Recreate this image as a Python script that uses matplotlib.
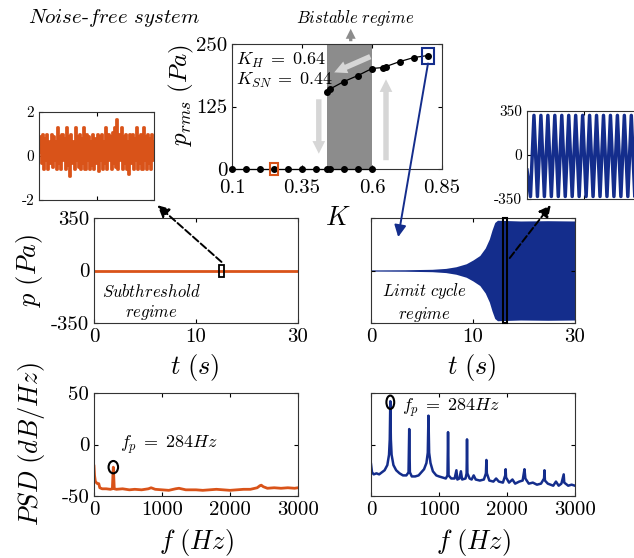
import numpy as np
import matplotlib
matplotlib.use('Agg')
import matplotlib.pyplot as plt
from matplotlib.patches import Rectangle, Ellipse, ConnectionPatch

# ---- bifurcation diagram (K vs p_rms) ----
K_low = [0.1, 0.15, 0.2, 0.25, 0.3, 0.35, 0.4, 0.44, 0.45, 0.5, 0.55, 0.6]
P_low = [0, 0, 0, 0, 0, 0, 0, 0, 0, 0, 0, 0]
K_up = [0.44, 0.45, 0.5, 0.55, 0.6, 0.64, 0.65, 0.7, 0.75, 0.8]
P_up = [155, 160, 175, 187, 201, 203, 205, 215, 223, 227]
K_SN, K_H = 0.44, 0.6

# ---- time series ----
t_sub = [0, 30]
p_sub = [0, 0]
env_t = [0, 5, 9, 11, 12.5, 14, 15, 16, 16.8, 17.4, 17.8, 18.2, 18.6, 22, 26, 30]
env_a = [4, 5, 8, 14, 25, 45, 70, 100, 150, 210, 270, 320, 335, 330, 332, 330]

# zoomed insets
noise_in = [0.2, 0.9, -0.3, 1.0, -0.6, 0.8, -0.2, 1.0, -0.6, 0.7, -0.3, 1.0, -0.5, 0.9,
            -0.2, 0.7, -0.6, 1.3, -0.3, 0.9, -0.6, 1.0, -0.2, 0.8, -0.6, 1.3, -0.4, 0.9,
            -0.9, 1.0, -0.3, 0.7, -0.6, 1.3, -0.2, 0.9, -0.5, 1.0, -0.6, 0.8, -0.3, 1.3,
            -0.6, 1.0, -0.2, 0.9, -0.6, 0.7, -0.4, 1.0, -0.6, 0.8, -0.3, 1.0, -0.7, 0.9,
            -0.2, 1.0, -0.6, 0.7, -0.3, 1.3, -0.6, 1.0, -0.2, 0.9, -0.6, 1.1, -0.3, 1.3,
            -0.5, 1.7, -0.6, 1.0, -0.2, 1.3, -0.6, 0.9, -0.3, 1.0, -0.6, 0.7, -0.8, 1.0,
            -0.3, 1.0, -0.6, 0.8, -0.2, 1.3, -0.6, 0.9, -0.3, 1.0, -0.6, 1.3, -0.2, 0.9,
            -0.6, 1.0, -0.3, 0.8, -0.6, 1.0, -0.2, 0.7]
lc_in = [-120, -330, 315, -330, 315, -330, 315, -330, 315, -330, 315, -330, 315,
         -330, 315, -330, 315, -330, 315, -330, 315, -330, 315, -330, 315, -330, 315,
         -330, 315, -330, 315, -330, 315, -330]

# ---- PSD ----
psd_l_f = [0, 8, 20, 35, 50, 70, 85, 120, 180, 240, 270, 278, 284, 290, 298, 330,
           420, 520, 600, 700, 800, 840, 900, 1000, 1100, 1200, 1250, 1350, 1500, 1600,
           1700, 1800, 1900, 2000, 2100, 2200, 2300, 2400, 2440, 2460, 2490, 2550, 2650,
           2750, 2850, 2950, 3000]
psd_l_db = [-21, -30, -36, -37, -38, -38, -42, -43, -43, -43.5, -43, -30, -22, -30, -43,
            -43.5, -43, -44, -43.5, -44, -43, -42, -43.5, -44, -44.5, -43, -42.5, -44,
            -44, -44.5, -44, -43.5, -44, -44.5, -44, -43.5, -43.5, -42, -40, -39.5, -41,
            -42.5, -42, -42.5, -42, -42.5, -42]
psd_r_f = [0, 15, 40, 80, 120, 160, 200, 240, 265, 276, 284, 292, 303, 330, 370, 420,
           470, 520, 552, 562, 572, 600, 650, 700, 740, 780, 815, 835, 845, 855, 875,
           910, 960, 1000, 1050, 1100, 1125, 1133, 1141, 1180, 1230, 1256, 1270, 1300,
           1322, 1340, 1390, 1406, 1412, 1418, 1450, 1480, 1510, 1540, 1600, 1660, 1690,
           1697, 1704, 1740, 1800, 1840, 1880, 1940, 1974, 1980, 1986, 2030, 2080, 2120,
           2180, 2230, 2257, 2270, 2320, 2380, 2440, 2500, 2545, 2551, 2558, 2600, 2680,
           2720, 2760, 2800, 2834, 2842, 2900, 2950, 3000]
psd_r_db = [-19, -27, -29, -28, -29, -27, -25, -20, -10, 5, 42, 5, -10, -20, -25, -28,
            -30, -30, -27, 15, -27, -31, -31, -30, -27, -24, -18, -8, 28, -8, -18,
            -26, -30, -31, -32, -33, -30, 12, -30, -33, -33, -25, -34, -33,
            -26, -34, -33, -28, 5, -28, -33, -34, -30, -34, -35, -34, -28,
            -15, -28, -35, -36, -33, -36, -37, -30, -24, -32, -37, -34, -38,
            -36, -35, -24, -33, -38, -37, -39, -38, -33, -25, -35, -38, -40,
            -36, -40, -38, -29, -37, -40, -39, -40]
f_peak = 284

orange = '#D95319'
blue = '#142D8C'
shade = '#8C8C8C'
light = '#D6D6D6'

plt.rcParams.update({
    'font.family': ['cmr10', 'DejaVu Serif'],
    'mathtext.fontset': 'cm',
    'axes.unicode_minus': False,
    'axes.formatter.use_mathtext': True,
    'xtick.direction': 'in', 'ytick.direction': 'in',
    'xtick.top': True, 'ytick.right': True,
    'xtick.major.size': 3, 'ytick.major.size': 3,
    'axes.edgecolor': '#333333', 'axes.linewidth': 0.8,
    'xtick.labelsize': 15, 'ytick.labelsize': 15,
})

W, H = 634, 558
fig = plt.figure(figsize=(W / 100, H / 100), dpi=100)


def ax_px(x0, y0, x1, y1):
    # axes from pixel box (top-left origin)
    return fig.add_axes([x0 / W, 1 - y1 / H, (x1 - x0) / W, (y1 - y0) / H])


LBL = 19

# top: bifurcation
ax_b = ax_px(232, 44, 442, 169)
ax_b.axvspan(K_SN, K_H, color=shade, lw=0)
ax_b.plot(K_low, P_low, 'k-o', ms=4, lw=0.9, clip_on=False, zorder=5)
ax_b.plot(K_up, P_up, 'k-o', ms=4, lw=0.9, clip_on=False, zorder=5)
ax_b.set_xlim(0.1, 0.85)
ax_b.set_ylim(0, 250)
ax_b.set_xticks([0.1, 0.35, 0.6, 0.85], ['0.1', '0.35', '0.6', '0.85'])
ax_b.set_yticks([0, 125, 250], ['0', '125', '250'])
ax_b.tick_params(axis='x', pad=7)
ax_b.set_ylabel(r'$p_{rms}\ (Pa)$', fontsize=18)
ax_b.yaxis.set_label_coords(-0.17, 0.59)
ax_b.set_xlabel(r'$K$', fontsize=19)
ax_b.xaxis.set_label_coords(0.505, -0.30)
ax_b.text(0.115, 218, r'$K_H\;=\;0.64$', fontsize=13, va='center')
ax_b.text(0.115, 178, r'$K_{SN}\;=\;0.44$', fontsize=13, va='center')
ax_b.add_patch(Rectangle((0.234, -12), 0.032, 24, fill=False, ec=orange, lw=1.5,
                         clip_on=False, zorder=6))
ax_b.add_patch(Rectangle((0.78, 211), 0.04, 32, fill=False, ec=blue, lw=1.5,
                         clip_on=False, zorder=6))
fat = dict(arrowstyle='simple,head_length=0.7,head_width=0.7,tail_width=0.3',
           color=light, lw=0, mutation_scale=13)
ax_b.annotate('', xy=(0.41, 25), xytext=(0.41, 145), arrowprops=fat)
ax_b.annotate('', xy=(0.65, 185), xytext=(0.65, 12), arrowprops=fat)
ax_b.annotate('', xy=(0.456, 191), xytext=(0.603, 227), arrowprops=fat)
ax_b.annotate('', xy=(0.524, 286), xytext=(0.524, 250), annotation_clip=False,
              arrowprops=dict(arrowstyle='simple,head_length=0.6,head_width=0.6,tail_width=0.2',
                              color=shade, lw=0, mutation_scale=12))
ax_b.text(0.54, 302, r'$Bistable\ regime$', fontsize=12, ha='center', va='center')

fig.text(114 / W, 1 - 18 / H, r'$Noise$-$free\ system$', fontsize=15,
         ha='center', va='center')

# time series
ax_tl = ax_px(94, 218, 298, 323)
ax_tl.plot(t_sub, p_sub, color=orange, lw=2)
ax_tr = ax_px(371, 218, 575, 323)
ax_tr.fill_between(env_t, [-a for a in env_a], env_a, color=blue, lw=0)
for ax in (ax_tl, ax_tr):
    ax.set_xlim(0, 30)
    ax.set_ylim(-350, 350)
    ax.set_xticks([0, 15, 30], ['0', '10', '30'])
    ax.set_yticks([-350, 0, 350], ['-350', '0', '350'])
    ax.set_xlabel(r'$t\ (s)$', fontsize=LBL)
    ax.xaxis.set_label_coords(0.495, -0.28)
ax_tr.set_yticklabels([])
ax_tl.set_ylabel(r'$p\ (Pa)$', fontsize=LBL)
ax_tl.yaxis.set_label_coords(-0.24, 0.5)
ax_tl.text(8.5, -213, '$Subthreshold$\n$regime$', fontsize=12, ha='center',
           va='center', linespacing=1.25)
ax_tr.text(7.9, -213, '$Limit\\ cycle$\n$regime$', fontsize=12, ha='center',
           va='center', linespacing=1.25)
ax_tl.add_patch(Rectangle((18.4, -40), 0.7, 80, fill=False, ec='k', lw=1.3, zorder=5))
ax_tr.add_patch(Rectangle((19.4, -350), 0.6, 700, fill=False, ec='k', lw=1.5,
                          zorder=5, clip_on=False))

# insets
ax_il = ax_px(39, 112, 154, 200)
ax_il.plot(range(len(noise_in)), noise_in, drawstyle='steps-mid', color=orange, lw=2)
ax_il.set_xlim(0, len(noise_in) - 1)
ax_il.set_ylim(-2, 2)
ax_il.set_yticks([-2, 0, 2], ['-2', '0', '2'])
ax_ir = ax_px(527, 111, 640, 199)
ax_ir.plot(range(len(lc_in)), lc_in, color=blue, lw=2.5)
ax_ir.set_xlim(0, len(lc_in) - 1.5)
ax_ir.set_ylim(-350, 350)
ax_ir.set_yticks([-350, 0, 350], ['-350', '0', '350'])
for ax in (ax_il, ax_ir):
    ax.set_xticks([ax.get_xlim()[1] / 2], [''])
    ax.tick_params(labelsize=11)

# PSD
ax_pl = ax_px(94, 393, 298, 496)
ax_pl.plot(psd_l_f, psd_l_db, color=orange, lw=2)
ax_pr = ax_px(371, 393, 575, 496)
ax_pr.plot(psd_r_f, psd_r_db, color=blue, lw=1.8)
for ax in (ax_pl, ax_pr):
    ax.set_xlim(0, 3000)
    ax.set_ylim(-50, 50)
    ax.set_xticks([0, 1000, 2000, 3000], ['0', '1000', '2000', '3000'])
    ax.set_yticks([-50, 0, 50], ['-50', '0', '50'])
    ax.set_xlabel(r'$f\ (Hz)$', fontsize=LBL)
    ax.xaxis.set_label_coords(0.5, -0.30)
ax_pr.set_yticklabels([])
ax_pl.set_ylabel(r'$PSD\ (dB/Hz)$', fontsize=LBL)
ax_pl.yaxis.set_label_coords(-0.23, 0.5)
ax_pl.add_patch(Ellipse((f_peak, -22), 140, 12, fill=False, ec='k', lw=1.5, zorder=5))
ax_pl.text(380, 0, r'$f_p\;=\;284Hz$', fontsize=13, va='center')
ax_pr.add_patch(Ellipse((f_peak, 41), 115, 13, fill=False, ec='k', lw=1.5, zorder=5))
ax_pr.text(456, 36, r'$f_p\;=\;284Hz$', fontsize=13, va='center')

# connecting arrows
arr = dict(arrowstyle='-|>,head_length=0.5,head_width=0.25', mutation_scale=14, lw=1.4)
fig.add_artist(ConnectionPatch((0.25, -12), (24.7, 250), 'data', 'data',
                               axesA=ax_b, axesB=ax_tl, color=orange, **arr))
fig.add_artist(ConnectionPatch((0.8, 211), (4.0, 223), 'data', 'data',
                               axesA=ax_b, axesB=ax_tr, color=blue, **arr))
fig.add_artist(ConnectionPatch((18.75, 57), (1.03, -0.06), 'data', 'axes fraction',
                               axesA=ax_tl, axesB=ax_il, color='k', ls='--', **arr))
fig.add_artist(ConnectionPatch((20.4, 83), (0.21, -0.07), 'data', 'axes fraction',
                               axesA=ax_tr, axesB=ax_ir, color='k', ls='--', **arr))

fig.savefig('out.png', dpi=100)
